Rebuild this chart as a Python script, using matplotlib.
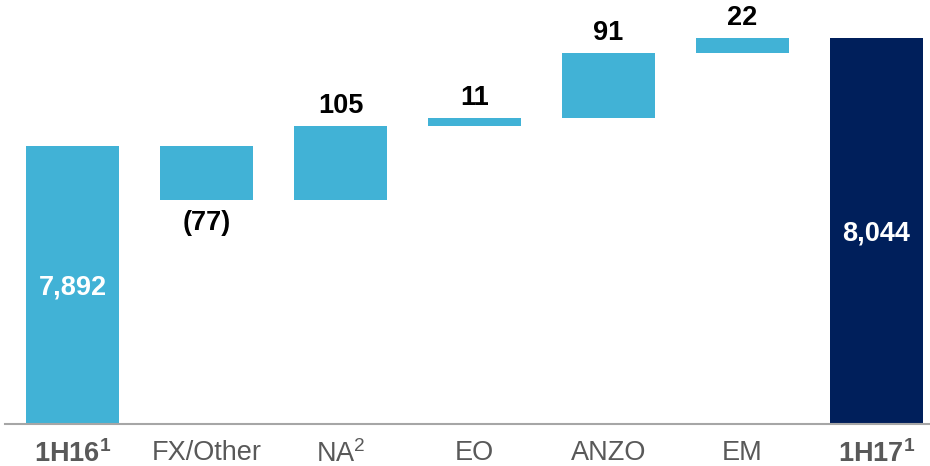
import numpy as np
import matplotlib.pyplot as plt

plt.rcParams['font.family'] = ['Liberation Sans', 'DejaVu Sans']
plt.rcParams['mathtext.fontset'] = 'custom'
plt.rcParams['mathtext.rm'] = 'Liberation Sans'
plt.rcParams['mathtext.bf'] = 'Liberation Sans:bold'

categories = [r'$\mathbf{1H16}^{\mathbf{1}}$', 'FX/Other', r'$\mathrm{NA}^{\mathrm{2}}$',
              'EO', 'ANZO', 'EM', r'$\mathbf{1H17}^{\mathbf{1}}$']
start_value = 7892
changes = [-77, 105, 11, 91, 22]
end_value = 8044
change_labels = ['(77)', '105', '11', '91', '22']

light_blue = '#41B2D6'
navy = '#001F5B'
y_floor = 7500
fs = 19.5

fig = plt.figure(figsize=(9.3, 4.66), dpi=100)
ax = fig.add_axes([5 / 930, 42 / 466, 925 / 930, 424 / 466])

x = np.arange(len(categories))
width = 0.694

# totals
ax.bar(x[0], start_value - y_floor, bottom=y_floor, width=width, color=light_blue)
ax.bar(x[-1], end_value - y_floor, bottom=y_floor, width=width, color=navy)

# floating steps
running = start_value
for i, (c, lab) in enumerate(zip(changes, change_labels), start=1):
    lo = min(running, running + c)
    ax.bar(x[i], abs(c), bottom=lo, width=width, color=light_blue)
    if c >= 0:
        ax.annotate(lab, xy=(x[i], running + c), xytext=(0, 9.4),
                    textcoords='offset points', ha='center', va='baseline',
                    fontsize=fs, fontweight='bold', color='black')
    else:
        ax.annotate(lab, xy=(x[i], running + c), xytext=(0, -21),
                    textcoords='offset points', ha='center', va='baseline',
                    fontsize=fs, fontweight='bold', color='black')
    running += c

ax.annotate(f'{start_value:,}', xy=(x[0], (start_value + y_floor) / 2),
            xytext=(0, -2), textcoords='offset points', ha='center',
            va='center', fontsize=fs, fontweight='bold', color='white')
ax.annotate(f'{end_value:,}', xy=(x[-1], (end_value + y_floor) / 2),
            xytext=(0, -2), textcoords='offset points', ha='center',
            va='center', fontsize=fs, fontweight='bold', color='white')

ax.set_xlim(-0.504, 6.4)
ax.set_ylim(y_floor, y_floor + 424 / 0.71)

for s in ['top', 'left', 'right']:
    ax.spines[s].set_visible(False)
ax.spines['bottom'].set_color('#A6A6A6')
ax.spines['bottom'].set_linewidth(1.5)
ax.set_yticks([])
ax.set_xticks(x)
ax.set_xticklabels(categories, fontsize=fs, color='#595959')
for i, t in enumerate(ax.get_xticklabels()):
    if i in (0, len(categories) - 1):
        t.set_fontweight('bold')
ax.tick_params(axis='x', length=0, pad=11.5)

fig.savefig('out.png', dpi=100)
